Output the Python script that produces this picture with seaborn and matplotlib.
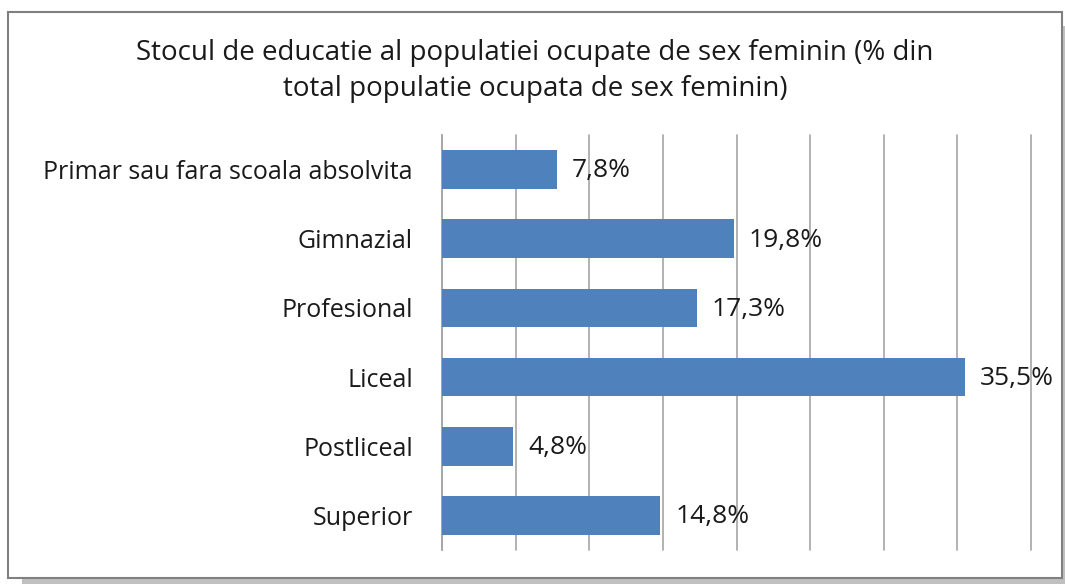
import matplotlib
matplotlib.use("Agg")
import matplotlib.pyplot as plt
import seaborn as sns
import pandas as pd
from matplotlib.patches import Rectangle

categories = ["Primar sau fara scoala absolvita", "Gimnazial", "Profesional",
              "Liceal", "Postliceal", "Superior"]
values = [7.8, 19.8, 17.3, 35.5, 4.8, 14.8]
value_labels = ["7,8%", "19,8%", "17,3%", "35,5%", "4,8%", "14,8%"]
title = "Stocul de educatie al populatiei ocupate de sex feminin (% din\ntotal populatie ocupata de sex feminin)"

sns.set_theme(style="white")
plt.rcParams['font.family'] = ['Open Sans', 'DejaVu Sans']

W, H = 1065, 585
fig = plt.figure(figsize=(W / 100, H / 100), dpi=100)

# frame with shadow
fig.patches.append(Rectangle((22 / W, 1 - 584 / H), (1068 - 22) / W, (584 - 26) / H,
                             transform=fig.transFigure, facecolor="#c0c0c0",
                             edgecolor="none", zorder=0))
fig.patches.append(Rectangle((8 / W, 1 - 578 / H), (1062 - 8) / W, (578 - 12) / H,
                             transform=fig.transFigure, facecolor="white",
                             edgecolor="#808080", linewidth=1.5, zorder=1))

ax = fig.add_axes([442 / W, 1 - 550 / H, 589 / W, 415 / H])
ax.set_zorder(2)
ax.patch.set_alpha(0)

df = pd.DataFrame({"cat": categories, "val": values})
sns.barplot(data=df, y="cat", x="val", orient="h", color="#4F81BD",
            saturation=1, width=0.56, ax=ax, edgecolor="none", zorder=3)

ax.set_xlim(0, 40)
ax.set_xticks(range(0, 41, 5))
ax.set_xticklabels([])
ax.grid(axis="x", color="#a6a6a6", linewidth=1.2, zorder=0)
for gl in ax.get_xgridlines():
    gl.set_clip_on(False)
ax.grid(axis="y", visible=False)
ax.set_axisbelow(True)
for s in ["top", "right", "bottom"]:
    ax.spines[s].set_visible(False)
ax.spines["left"].set_color("#a6a6a6")
ax.spines["left"].set_linewidth(1.2)
ax.tick_params(axis="both", length=0)
ax.tick_params(axis="y", pad=21, labelsize=18, labelcolor="#1a1a1a")
ax.set_xlabel("")
ax.set_ylabel("")

for i, (v, lab) in enumerate(zip(values, value_labels)):
    ax.annotate(lab, xy=(v, i), xytext=(11, -1), textcoords="offset points",
                va="center", ha="left", fontsize=19, color="#1a1a1a", zorder=5)

fig.text(535 / W, 1 - 71 / H, title, ha="center", va="center", fontsize=20,
         color="#1a1a1a", linespacing=1.42, zorder=5)

fig.savefig("out.png", dpi=100)
